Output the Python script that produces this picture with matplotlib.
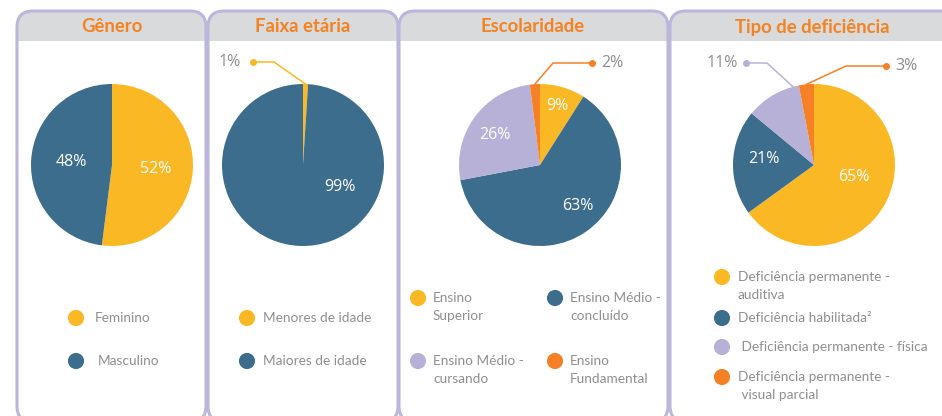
import matplotlib
matplotlib.use("Agg")
import matplotlib.pyplot as plt
import numpy as np
from matplotlib.patches import FancyBboxPatch, Rectangle

plt.rcParams['font.family'] = ['Open Sans', 'DejaVu Sans']

# data
titles = ['Gênero', 'Faixa etária', 'Escolaridade', 'Tipo de deficiência']

genero_labels = ['Feminino', 'Masculino']
genero_vals = [52, 48]

faixa_labels = ['Menores de idade', 'Maiores de idade']
faixa_vals = [1, 99]

escol_labels = ['Ensino\nSuperior', 'Ensino Médio -\nconcluído',
                'Ensino Médio -\ncursando', 'Ensino\nFundamental']
escol_vals = [9, 63, 26, 2]

defic_labels = ['Deficiência permanente -\nauditiva', 'Deficiência habilitada²',
                ' Deficiência permanente - física', 'Deficiência permanente -\n visual parcial']
defic_vals = [65, 21, 11, 3]

YEL, BLUE, LAV, ORA = '#FBB825', '#3C6D8D', '#B7B1D7', '#F58025'
BORDER = '#BDB6DC'
HEADER = '#D9DADB'
TITLE_C = '#F58220'
GRAY_TXT = '#8F8F8F'

W, H = 942, 416

def py(y):
    # pixel row (from top) -> data y
    return H - y

fig = plt.figure(figsize=(9.42, 4.16), dpi=100)
ax = fig.add_axes([0, 0, 1, 1])

# panels: (x0, x1, title centre)
panels = [(17, 206, 112), (208, 398, 303), (399, 668, 533), (670, 962, 812)]
top, bottom, head_bottom = 11, 422, 41

for (x0, x1, tc), t in zip(panels, titles):
    box = FancyBboxPatch((x0, py(bottom)), x1 - x0, bottom - top,
                         boxstyle='round,pad=0,rounding_size=16',
                         fc='white', ec='none', zorder=1)
    ax.add_patch(box)
    head = Rectangle((x0, py(head_bottom)), x1 - x0, head_bottom - top,
                     fc=HEADER, ec='none', zorder=2)
    ax.add_patch(head)
    head.set_clip_path(box)
    edge = FancyBboxPatch((x0, py(bottom)), x1 - x0, bottom - top,
                          boxstyle='round,pad=0,rounding_size=16',
                          fc='none', ec=BORDER, lw=2.2, zorder=5)
    ax.add_patch(edge)
    ax.text(tc, py(27), t, color=TITLE_C, fontsize=13.3, fontweight='bold',
            family=['Lato', 'DejaVu Sans'], ha='center', va='center', zorder=6)

charts = [
    dict(vals=genero_vals, labels=genero_labels, colors=[YEL, BLUE], center=(112, 165),
         inside=[(0.54, -5), (0.5, 176)], outside={},
         legend=[(76, 318), (76, 361)], tdx=[19, 22], two_line=False),
    dict(vals=faixa_vals, labels=faixa_labels, colors=[YEL, BLUE], center=(303, 165),
         inside=[None, (0.53, -31)],
         outside={0: dict(dot=(253, 62), elbow=274, tx=241, ha='right', anchor=None)},
         legend=[(247, 318), (247, 361)], tdx=[16, 16], two_line=False),
    dict(vals=escol_vals, labels=escol_labels, colors=[YEL, BLUE, LAV, ORA], center=(540, 165),
         inside=[(0.76, 74), (0.69, -47), (0.67, 146), None],
         outside={3: dict(dot=(592, 63), elbow=553, tx=601, ha='left', anchor=None)},
         legend=[(418, 298), (555, 298), (418, 361), (555, 361)], tdx=[15] * 4, two_line=True),
    dict(vals=defic_vals, labels=defic_labels, colors=[YEL, BLUE, LAV, ORA], center=(814, 165),
         inside=[(0.52, -17), (0.62, 173), None, None],
         outside={2: dict(dot=(746, 63), elbow=767, tx=738, ha='right', anchor=105),
                  3: dict(dot=(886, 66), elbow=846, tx=895, ha='left', anchor=None)},
         legend=[(722, 277), (722, 318), (722, 347), (722, 377)], tdx=[16] * 4, two_line=True),
]

R = 81
for ch in charts:
    cx, cy = ch['center']
    wedges, _ = ax.pie(ch['vals'], colors=ch['colors'], startangle=90, counterclock=False,
                       center=(cx, py(cy)), radius=R, frame=True,
                       wedgeprops=dict(linewidth=0))
    for w in wedges:
        w.set_zorder(3)
    for i, (v, w) in enumerate(zip(ch['vals'], wedges)):
        mid = (w.theta1 + w.theta2) / 2
        spec = ch['inside'][i]
        if spec is not None:
            frac, ang = spec
            a = np.radians(ang)
            ax.text(cx + frac * R * np.cos(a), py(cy) + frac * R * np.sin(a), f'{v}%',
                    color='white', fontsize=11.5, ha='center', va='center', zorder=6)
        if i in ch['outside']:
            o = ch['outside'][i]
            a = np.radians(o['anchor'] if o['anchor'] is not None else mid)
            sx, sy = cx + R * np.cos(a), py(cy) + R * np.sin(a)
            dx, dy = o['dot']
            ax.plot([sx, o['elbow'], dx], [sy, py(dy), py(dy)], color=ch['colors'][i],
                    lw=1.1, zorder=6, solid_capstyle='round')
            ax.plot([dx], [py(dy)], 'o', color=ch['colors'][i], ms=4, zorder=6)
            ax.text(o['tx'], py(dy), f'{v}%', color=GRAY_TXT, fontsize=11.5,
                    ha=o['ha'], va='center', zorder=6)
    # legend
    for (lx, ly), lab, col, tdx in zip(ch['legend'], ch['labels'], ch['colors'], ch['tdx']):
        ax.scatter([lx], [py(ly)], s=135, color=col, edgecolors='none', zorder=6)
        shift = 9 if '\n' in lab else 0
        ax.text(lx + tdx, py(ly + shift), lab, color=GRAY_TXT, fontsize=9.8,
                family=['Lato', 'DejaVu Sans'],
                ha='left', va='center', linespacing=1.6, zorder=6)

ax.set_xlim(0, W)
ax.set_ylim(0, H)
ax.set_aspect('auto')
ax.axis('off')

fig.savefig('out.png', dpi=100, facecolor='white')
